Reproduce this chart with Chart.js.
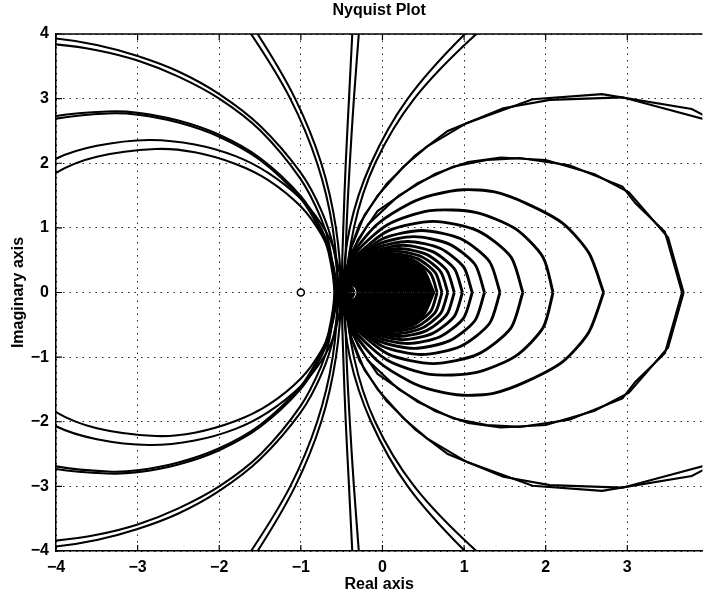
<!DOCTYPE html>
<html>
<head>
<meta charset="utf-8">
<title>Nyquist Plot</title>
<script src="https://cdn.jsdelivr.net/npm/chart.js@4.4.1/dist/chart.umd.min.js"></script>
<style>
  html, body { margin: 0; padding: 0; background: #fff; }
  #wrap { width: 708px; height: 596px; }
</style>
</head>
<body>
<div id="wrap"><canvas id="nyq" width="708" height="596"></canvas></div>
<script>
// Tick positions
const xTicks = [-4, -3, -2, -1, 0, 1, 2, 3];
const yTicks = [-4, -3, -2, -1, 0, 1, 2, 3, 4];

// Positive-frequency half of every curve, ending on the real axis.
// The negative-frequency half is the mirror image (complex conjugate).

// loops opening to the left
const leftCurves = [
  [[-4.5, 3.96], [-4, 3.93], [-3.5, 3.83], [-3, 3.66], [-2.5, 3.42], [-2, 3.07], [-1.5, 2.58], [-1.0, 1.85], [-0.75, 1.27], [-0.6, 0.69], [-0.54, 0]],
  [[-4.45, 3.87], [-4, 3.84], [-3.5, 3.75], [-3, 3.59], [-2.5, 3.34], [-2, 3.00], [-1.5, 2.51], [-1.0, 1.75], [-0.75, 1.14], [-0.65, 0.73], [-0.58, 0]],
  [[-4.5, 2.56], [-4, 2.73], [-3.37, 2.80], [-3, 2.78], [-2.5, 2.66], [-2, 2.44], [-1.5, 2.08], [-1.0, 1.49], [-0.75, 0.99], [-0.65, 0.66], [-0.57, 0]],
  [[-4.5, 2.52], [-4, 2.69], [-3.36, 2.77], [-3, 2.75], [-2.5, 2.63], [-2, 2.41], [-1.5, 2.05], [-1.0, 1.45], [-0.75, 0.93], [-0.66, 0.62], [-0.59, 0]],
  [[-4.6, 1.59], [-4, 2.07], [-3.5, 2.27], [-2.86, 2.36], [-2.3, 2.29], [-1.8, 2.11], [-1.4, 1.85], [-1.0, 1.45], [-0.75, 1.06], [-0.6, 0.68], [-0.5, 0]],
  [[-4.6, 1.27], [-4, 1.85], [-3.5, 2.10], [-2.78, 2.22], [-2.3, 2.17], [-1.8, 1.99], [-1.4, 1.74], [-1.0, 1.33], [-0.75, 0.90], [-0.62, 0.51], [-0.56, 0]]
];

// large loops leaving through the top and bottom edges
const fanCurves = [
  [[-1.92, 4.5], [-1.61, 4], [-1.13, 3], [-0.80, 2], [-0.61, 1], [-0.55, 0]],
  [[-1.83, 4.5], [-1.53, 4], [-1.07, 3], [-0.75, 2], [-0.57, 1], [-0.51, 0]],
  [[-0.35, 4.5], [-0.37, 4], [-0.41, 3], [-0.45, 2], [-0.48, 1], [-0.50, 0]],
  [[-0.26, 4.5], [-0.29, 4], [-0.35, 3], [-0.40, 2], [-0.44, 1], [-0.46, 0]],
  [[1.50, 4.5], [1.01, 4], [0.31, 3], [-0.14, 2], [-0.40, 1], [-0.48, 0]],
  [[1.69, 4.5], [1.15, 4], [0.39, 3], [-0.09, 2], [-0.35, 1], [-0.44, 0]]
];

// outer loops opening to the right (coarse frequency grid, straight segments)
const outerCurves = [
  [[5.62, 0], [5.0, 1.86], [4.3, 2.5], [3.79, 2.84], [2.69, 3.07], [1.84, 2.99], [1.03, 2.62], [0.55, 2.26], [0.26, 1.95], [-0.06, 1.50], [-0.28, 1.06], [-0.40, 0.65], [-0.48, 0]],
  [[5.66, 0], [5.3, 1.4], [4.6, 2.3], [3.95, 2.68], [2.94, 3.02], [2.05, 2.98], [1.48, 2.85], [0.80, 2.50], [0.40, 2.12], [0.05, 1.68], [-0.22, 1.20], [-0.38, 0.70], [-0.48, 0]],
  [[3.67, 0], [3.46, 0.94], [3.10, 1.38], [2.94, 1.64], [2.29, 1.97], [1.68, 2.08], [1.28, 2.05], [0.87, 1.95], [0.43, 1.69], [-0.06, 1.26], [-0.30, 0.82], [-0.43, 0.42], [-0.48, 0]],
  [[3.69, 0], [3.50, 0.85], [3.02, 1.55], [2.60, 1.83], [2.00, 2.05], [1.45, 2.09], [1.05, 2.02], [0.65, 1.84], [0.20, 1.50], [-0.18, 1.05], [-0.38, 0.62], [-0.48, 0]]
];

// middle loops opening to the right
const rightCurves = [
  [[2.71, 0], [2.53, 0.61], [2.21, 1.07], [1.76, 1.38], [1.36, 1.56], [0.99, 1.59], [0.62, 1.51], [0.34, 1.38], [-0.06, 1.06], [-0.33, 0.66], [-0.45, 0.29], [-0.48, 0]],
  [[2.09, 0], [1.969, 0.543], [1.631, 0.984], [1.138, 1.241], [0.581, 1.266], [0.067, 1.052], [-0.308, 0.643], [-0.436, 0.333], [-0.48, 0]],
  [[1.72, 0], [1.573, 0.55], [1.17, 0.953], [0.62, 1.10], [0.07, 0.953], [-0.333, 0.55], [-0.443, 0.285], [-0.48, 0]],
  [[1.44, 0], [1.311, 0.48], [0.96, 0.831], [0.48, 0.96], [0.0, 0.831], [-0.351, 0.48], [-0.447, 0.248], [-0.48, 0]],
  [[1.25, 0], [1.134, 0.433], [0.818, 0.749], [0.385, 0.865], [-0.048, 0.749], [-0.364, 0.433], [-0.48, 0]],
  [[1.10, 0], [0.994, 0.395], [0.705, 0.684], [0.31, 0.79], [-0.085, 0.684], [-0.374, 0.395], [-0.48, 0]],
  [[0.98, 0], [0.882, 0.365], [0.615, 0.632], [0.25, 0.73], [-0.115, 0.632], [-0.382, 0.365], [-0.48, 0]],
  [[0.88, 0], [0.789, 0.34], [0.54, 0.589], [0.20, 0.68], [-0.14, 0.589], [-0.389, 0.34], [-0.48, 0]],
  [[0.80, 0], [0.714, 0.32], [0.48, 0.554], [0.16, 0.64], [-0.16, 0.554], [-0.394, 0.32], [-0.48, 0]],
  [[0.73, 0], [0.649, 0.303], [0.428, 0.524], [0.125, 0.605], [-0.178, 0.524], [-0.399, 0.303], [-0.48, 0]],
  [[0.67, 0], [0.593, 0.288], [0.383, 0.498], [0.095, 0.575], [-0.193, 0.498], [-0.403, 0.288], [-0.48, 0]]
];

// small loops crowded near the real axis
const coreCurves = [
  [[0.63, 0], [0.462, 0.407], [0.055, 0.575], [-0.352, 0.407], [-0.52, 0]],
  [[0.605, 0], [0.433, 0.415], [0.018, 0.588], [-0.398, 0.415], [-0.57, 0]],
  [[0.58, 0], [0.419, 0.389], [0.03, 0.55], [-0.359, 0.389], [-0.52, 0]],
  [[0.555, 0], [0.390, 0.398], [-0.008, 0.563], [-0.405, 0.398], [-0.57, 0]],
  [[0.53, 0], [0.376, 0.371], [0.005, 0.525], [-0.366, 0.371], [-0.52, 0]],
  [[0.505, 0], [0.348, 0.380], [-0.033, 0.538], [-0.413, 0.380], [-0.57, 0]],
  [[0.48, 0], [0.334, 0.354], [-0.02, 0.50], [-0.374, 0.354], [-0.52, 0]],
  [[0.455, 0], [0.305, 0.362], [-0.058, 0.513], [-0.420, 0.362], [-0.57, 0]],
  [[0.43, 0], [0.291, 0.336], [-0.045, 0.475], [-0.381, 0.336], [-0.52, 0]],
  [[0.405, 0], [0.262, 0.345], [-0.083, 0.488], [-0.427, 0.345], [-0.57, 0]],
  [[0.38, 0], [0.248, 0.318], [-0.07, 0.45], [-0.388, 0.318], [-0.52, 0]],
  [[0.355, 0], [0.220, 0.327], [-0.108, 0.463], [-0.435, 0.327], [-0.57, 0]],
  [[0.33, 0], [0.205, 0.30], [-0.095, 0.425], [-0.395, 0.30], [-0.52, 0]],
  [[0.305, 0], [0.177, 0.309], [-0.133, 0.438], [-0.442, 0.309], [-0.57, 0]],
  [[0.28, 0], [0.163, 0.283], [-0.12, 0.40], [-0.403, 0.283], [-0.52, 0]],
  [[0.255, 0], [0.134, 0.292], [-0.158, 0.413], [-0.449, 0.292], [-0.57, 0]],
  [[0.23, 0], [0.12, 0.265], [-0.145, 0.375], [-0.41, 0.265], [-0.52, 0]],
  [[0.205, 0], [0.092, 0.274], [-0.183, 0.388], [-0.457, 0.274], [-0.57, 0]],
  [[0.18, 0], [0.077, 0.247], [-0.17, 0.35], [-0.417, 0.247], [-0.52, 0]],
  [[0.155, 0], [0.049, 0.256], [-0.208, 0.363], [-0.464, 0.256], [-0.57, 0]],
  [[0.13, 0], [0.035, 0.23], [-0.195, 0.325], [-0.425, 0.23], [-0.52, 0]],
  [[0.105, 0], [0.006, 0.239], [-0.233, 0.338], [-0.471, 0.239], [-0.57, 0]],
  [[0.08, 0], [-0.008, 0.212], [-0.22, 0.30], [-0.432, 0.212], [-0.52, 0]],
  [[0.055, 0], [-0.037, 0.221], [-0.258, 0.313], [-0.478, 0.221], [-0.57, 0]],
  [[0.03, 0], [-0.051, 0.194], [-0.245, 0.275], [-0.439, 0.194], [-0.52, 0]],
  [[0.005, 0], [-0.079, 0.203], [-0.283, 0.288], [-0.486, 0.203], [-0.57, 0]],
  [[-0.02, 0], [-0.093, 0.177], [-0.27, 0.25], [-0.447, 0.177], [-0.52, 0]],
  [[-0.045, 0], [-0.122, 0.186], [-0.308, 0.263], [-0.493, 0.186], [-0.57, 0]],
  [[-0.07, 0], [-0.136, 0.159], [-0.295, 0.225], [-0.454, 0.159], [-0.52, 0]],
  [[-0.095, 0], [-0.165, 0.168], [-0.333, 0.238], [-0.500, 0.168], [-0.57, 0]],
  [[-0.12, 0], [-0.179, 0.141], [-0.32, 0.20], [-0.461, 0.141], [-0.52, 0]],
  [[-0.145, 0], [-0.208, 0.150], [-0.358, 0.213], [-0.508, 0.150], [-0.57, 0]],
  [[-0.17, 0], [-0.221, 0.124], [-0.345, 0.175], [-0.469, 0.124], [-0.52, 0]],
  [[-0.195, 0], [-0.250, 0.133], [-0.383, 0.188], [-0.515, 0.133], [-0.57, 0]],
  [[-0.22, 0], [-0.264, 0.106], [-0.37, 0.15], [-0.476, 0.106], [-0.52, 0]],
  [[-0.245, 0], [-0.293, 0.115], [-0.408, 0.163], [-0.522, 0.115], [-0.57, 0]],
  [[-0.27, 0], [-0.307, 0.088], [-0.395, 0.125], [-0.483, 0.088], [-0.52, 0]],
  [[-0.295, 0], [-0.335, 0.097], [-0.433, 0.138], [-0.530, 0.097], [-0.57, 0]],
  [[-0.345, 0], [-0.378, 0.080], [-0.458, 0.113], [-0.537, 0.080], [-0.57, 0]],
  [[-0.37, 0], [-0.392, 0.053], [-0.445, 0.075], [-0.498, 0.053], [-0.52, 0]],
  [[-0.395, 0], [-0.421, 0.062], [-0.483, 0.088], [-0.544, 0.062], [-0.57, 0]],
  [[-0.42, 0], [-0.435, 0.035], [-0.47, 0.05], [-0.505, 0.035], [-0.52, 0]],
  [[-0.47, 0], [-0.485, 0.035], [-0.52, 0.05], [-0.555, 0.035], [-0.57, 0]]
];

// the -1 point
const criticalPoint = [[-1, 0]];

const FONT = "'Liberation Sans', Arial, Helvetica, sans-serif";

// add the conjugate half so each curve is drawn for negative frequencies too
function withConjugate(upper) {
  const lower = upper.slice(0, -1).reverse().map(([x, y]) => [x, -y]);
  return upper.concat(lower).map(([x, y]) => ({ x: x, y: y }));
}

function curveSet(group, width, tension) {
  return group.map(pts => ({
    data: withConjugate(pts),
    showLine: true,
    borderColor: '#000',
    borderWidth: width,
    pointRadius: 0,
    tension: tension,
    fill: false
  }));
}

const datasets = [
  {
    data: criticalPoint.map(([x, y]) => ({ x, y })),
    pointStyle: 'circle',
    pointRadius: 3.5,
    borderWidth: 1.6,
    borderColor: '#000',
    backgroundColor: '#fff',
    showLine: false
  },
  ...curveSet(leftCurves, 2.1, 0.3),
  ...curveSet(fanCurves, 2.1, 0.3),
  ...curveSet(outerCurves, 2.1, 0),
  ...curveSet(rightCurves, 2.9, 0.25),
  ...curveSet(coreCurves, 2.9, 0.35)
];

// top edge of the box and inward tick marks
const frame = {
  id: 'frame',
  afterDatasetsDraw(chart) {
    const { ctx, chartArea: a, scales } = chart;
    ctx.save();
    ctx.strokeStyle = '#000';
    ctx.lineWidth = 1.5;
    ctx.beginPath();
    ctx.moveTo(a.left, a.top);
    ctx.lineTo(a.right, a.top);
    ctx.stroke();
    ctx.lineWidth = 1.2;
    ctx.beginPath();
    xTicks.forEach(v => {
      const px = scales.x.getPixelForValue(v);
      ctx.moveTo(px, a.bottom); ctx.lineTo(px, a.bottom - 6);
      ctx.moveTo(px, a.top); ctx.lineTo(px, a.top + 6);
    });
    yTicks.forEach(v => {
      const py = scales.y.getPixelForValue(v);
      ctx.moveTo(a.left, py); ctx.lineTo(a.left + 6, py);
    });
    ctx.stroke();
    ctx.restore();
  }
};

const minus = v => (v < 0 ? '\u2212' + Math.abs(v) : String(v));

new Chart(document.getElementById('nyq'), {
  type: 'scatter',
  data: { datasets: datasets },
  options: {
    responsive: false,
    animation: false,
    devicePixelRatio: 1,
    layout: { padding: 0 },
    elements: { line: { capBezierPoints: false } },
    plugins: {
      legend: { display: false },
      tooltip: { enabled: false },
      title: {
        display: true,
        fullSize: false,
        text: 'Nyquist Plot',
        color: '#000',
        font: { family: FONT, size: 16, weight: 'bold' },
        padding: { top: 1, bottom: 13.8 }
      }
    },
    scales: {
      x: {
        type: 'linear',
        min: -4,
        max: 3.92,
        afterFit: s => { s.height = 45; },
        afterBuildTicks: s => { s.ticks = xTicks.map(v => ({ value: v })); },
        grid: { color: '#222', lineWidth: 1, drawTicks: false },
        border: { display: true, color: '#000', width: 1.5, dash: [1.5, 5] },
        ticks: {
          color: '#000',
          padding: 7,
          font: { family: FONT, size: 16, weight: 'bold' },
          callback: minus
        },
        title: {
          display: true,
          text: 'Real axis',
          color: '#000',
          font: { family: FONT, size: 16, weight: 'bold' },
          padding: { top: 0, bottom: 1.5 }
        }
      },
      y: {
        type: 'linear',
        min: -4,
        max: 4,
        afterFit: s => { s.width = 56; },
        afterBuildTicks: s => { s.ticks = yTicks.map(v => ({ value: v })); },
        grid: { color: '#222', lineWidth: 1, drawTicks: false },
        border: { display: true, color: '#000', width: 1.5, dash: [1.5, 5] },
        ticks: {
          color: '#000',
          padding: 7,
          font: { family: FONT, size: 16, weight: 'bold' },
          callback: minus
        },
        title: {
          display: true,
          text: 'Imaginary axis',
          color: '#000',
          font: { family: FONT, size: 16, weight: 'bold' },
          padding: { top: 9, bottom: 0 }
        }
      }
    }
  },
  plugins: [frame]
});
</script>
</body>
</html>
